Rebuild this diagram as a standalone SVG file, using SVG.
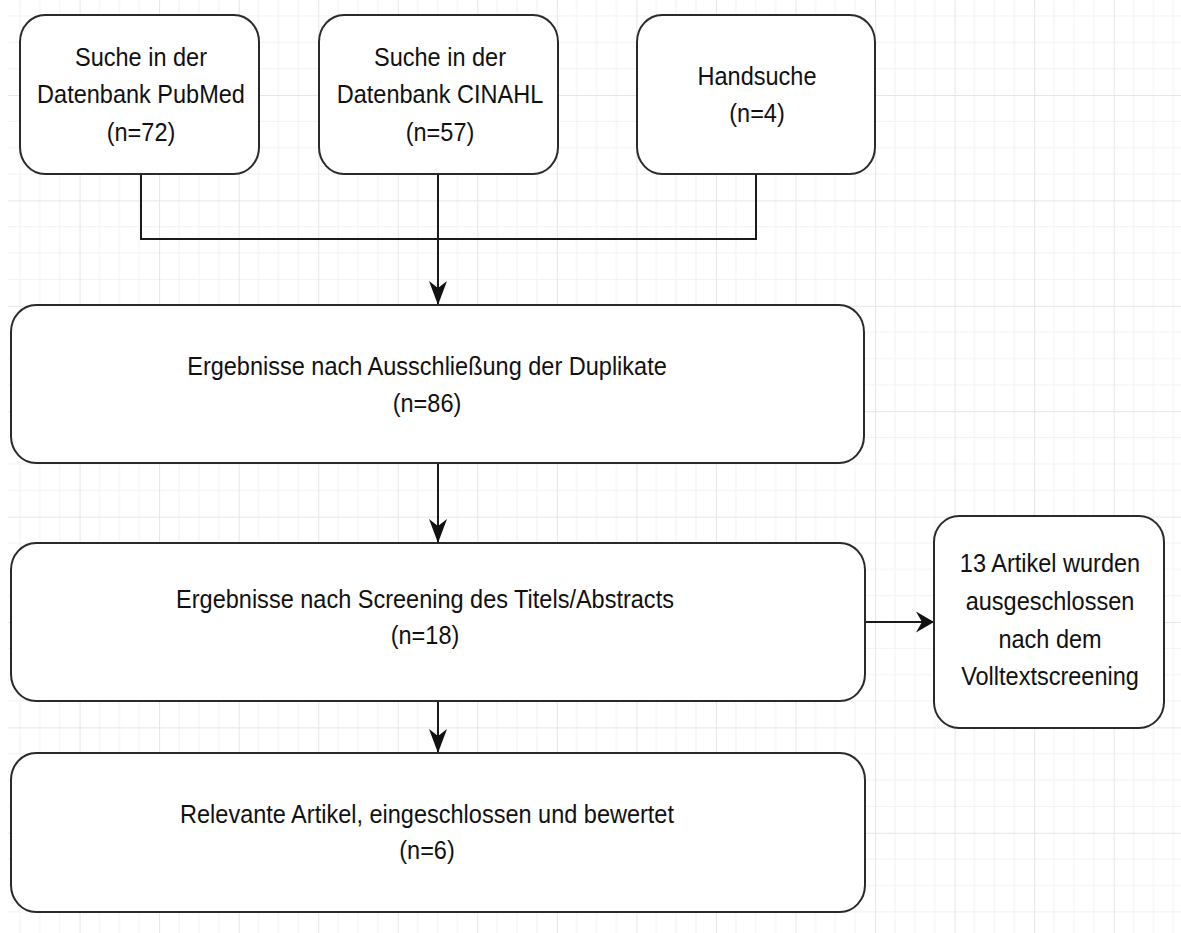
<svg xmlns="http://www.w3.org/2000/svg" width="1181" height="933" viewBox="0 0 1181 933">
  <style>
    .box { fill: #ffffff; stroke: #2a2a2a; stroke-width: 2; }
    .lbl { font-family: "Liberation Sans", Arial, sans-serif; font-size: 24px; fill: #111111; text-anchor: middle; }
    .conn { fill: none; stroke: #1a1a1a; stroke-width: 2; }
    .minor { stroke: #f2f2f2; stroke-width: 1; }
    .major { stroke: #e6e6e6; stroke-width: 1; }
  </style>
  <defs>
    <pattern id="grid" patternUnits="userSpaceOnUse" x="0" y="-10.4" width="79.55" height="105.4">
      <line class="minor" x1="19.89" y1="0" x2="19.89" y2="105.4"/>
      <line class="minor" x1="39.78" y1="0" x2="39.78" y2="105.4"/>
      <line class="minor" x1="59.66" y1="0" x2="59.66" y2="105.4"/>
      <line class="minor" x1="0" y1="26.35" x2="79.55" y2="26.35"/>
      <line class="minor" x1="0" y1="52.7" x2="79.55" y2="52.7"/>
      <line class="minor" x1="0" y1="79.05" x2="79.55" y2="79.05"/>
      <line class="major" x1="0.5" y1="0" x2="0.5" y2="105.4"/>
      <line class="major" x1="0" y1="0.5" x2="79.55" y2="0.5"/>
    </pattern>
    <marker id="arrowV" markerUnits="userSpaceOnUse" orient="auto" viewBox="-26 -12 28 24" markerWidth="28" markerHeight="24" refX="0" refY="0">
      <path d="M0,0 L-24,-9 L-17,0 L-24,9 Z" fill="#111111"/>
    </marker>
    <marker id="arrowH" markerUnits="userSpaceOnUse" orient="auto" viewBox="-20 -12 22 24" markerWidth="22" markerHeight="24" refX="0" refY="0">
      <path d="M0,0 L-18,-10.5 L-12,0 L-18,10.5 Z" fill="#111111"/>
    </marker>
  </defs>
  <rect x="0" y="0" width="1181" height="933" fill="#ffffff"/>
  <rect x="8" y="0" width="1173" height="933" fill="url(#grid)"/>

  <g id="connectors">
    <path class="conn" d="M141,174 V239 H756 V174"/>
    <path class="conn" d="M438,174 V305" marker-end="url(#arrowV)"/>
    <path class="conn" d="M438,463 V543" marker-end="url(#arrowV)"/>
    <path class="conn" d="M438,701 V753" marker-end="url(#arrowV)"/>
    <path class="conn" d="M865,622 H934" marker-end="url(#arrowH)"/>
  </g>

  <g id="node-pubmed">
    <rect class="box" x="20" y="15" width="239" height="159" rx="25" ry="27"/>
    <text class="lbl" transform="translate(141,66) scale(0.98,1.07)">Suche in der</text>
    <text class="lbl" transform="translate(141,103) scale(0.98,1.07)">Datenbank PubMed</text>
    <text class="lbl" transform="translate(141,141) scale(0.98,1.07)">(n=72)</text>
  </g>
  <g id="node-cinahl">
    <rect class="box" x="319" y="15" width="239" height="159" rx="25" ry="27"/>
    <text class="lbl" transform="translate(440,66) scale(0.98,1.07)">Suche in der</text>
    <text class="lbl" transform="translate(440,103) scale(0.98,1.07)">Datenbank CINAHL</text>
    <text class="lbl" transform="translate(440,141) scale(0.98,1.07)">(n=57)</text>
  </g>
  <g id="node-handsuche">
    <rect class="box" x="637" y="15" width="238" height="159" rx="25" ry="27"/>
    <text class="lbl" transform="translate(757,85) scale(0.98,1.07)">Handsuche</text>
    <text class="lbl" transform="translate(757,122) scale(0.98,1.07)">(n=4)</text>
  </g>
  <g id="node-duplikate">
    <rect class="box" x="11" y="305" width="853" height="158" rx="25" ry="27"/>
    <text class="lbl" transform="translate(427,375) scale(0.98,1.07)">Ergebnisse nach Ausschließung der Duplikate</text>
    <text class="lbl" transform="translate(427,412) scale(0.98,1.07)">(n=86)</text>
  </g>
  <g id="node-screening">
    <rect class="box" x="11" y="543" width="854" height="158" rx="25" ry="27"/>
    <text class="lbl" transform="translate(425,608) scale(0.98,1.07)">Ergebnisse nach Screening des Titels/Abstracts</text>
    <text class="lbl" transform="translate(425,644) scale(0.98,1.07)">(n=18)</text>
  </g>
  <g id="node-relevant">
    <rect class="box" x="11" y="753" width="854" height="159" rx="25" ry="27"/>
    <text class="lbl" transform="translate(427,823) scale(0.98,1.07)">Relevante Artikel, eingeschlossen und bewertet</text>
    <text class="lbl" transform="translate(427,859) scale(0.98,1.07)">(n=6)</text>
  </g>
  <g id="node-excluded">
    <rect class="box" x="934" y="516" width="230" height="212" rx="25" ry="26"/>
    <text class="lbl" transform="translate(1050,572) scale(0.98,1.07)">13 Artikel wurden</text>
    <text class="lbl" transform="translate(1050,610) scale(0.98,1.07)">ausgeschlossen</text>
    <text class="lbl" transform="translate(1050,648) scale(0.98,1.07)">nach dem</text>
    <text class="lbl" transform="translate(1050,685) scale(0.98,1.07)">Volltextscreening</text>
  </g>
</svg>
